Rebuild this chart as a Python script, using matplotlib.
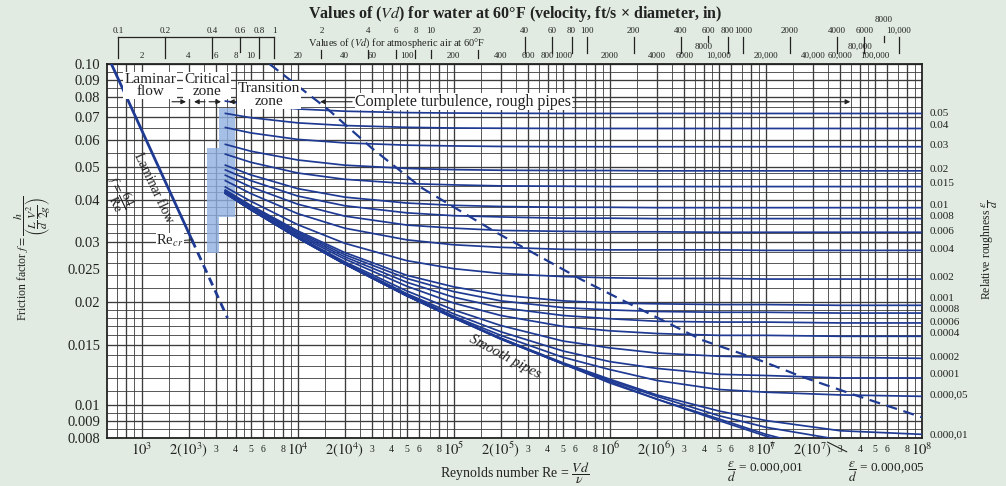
import matplotlib
matplotlib.use("Agg")
import numpy as np
import matplotlib.pyplot as plt
from matplotlib.transforms import blended_transform_factory
from matplotlib.ticker import NullLocator, NullFormatter

plt.rcParams['font.family'] = ['Liberation Serif', 'DejaVu Serif']
plt.rcParams['mathtext.fontset'] = 'stix'

# ---------------- data ----------------
re_grid = [3.4e3, 5e3, 1e4, 2e4, 5e4, 1e5, 2e5, 5e5, 1e6, 2e6, 5e6, 1e7, 3e7, 1e8]

rough_labels = ["0.05", "0.04", "0.03", "0.02", "0.015", "0.01", "0.008", "0.006",
                "0.004", "0.002", "0.001", "0.0008", "0.0006", "0.0004", "0.0002",
                "0.0001", "0.000,05", "0.000,01"]
# vertical position of each right-hand roughness label (friction-factor units)
rough_label_f = [0.0718, 0.0658, 0.0575, 0.0492, 0.0446, 0.0385, 0.0357, 0.0323,
                 0.0285, 0.0237, 0.0205, 0.0190, 0.0175, 0.0162, 0.0138, 0.0123,
                 0.0107, 0.0082]

f_0_05 = [0.0779, 0.0760, 0.0738, 0.0727, 0.0720, 0.0718, 0.0717, 0.0716, 0.0716, 0.0716, 0.0716, 0.0716, 0.0716, 0.0716]
f_0_04 = [0.0717, 0.0696, 0.0672, 0.0660, 0.0652, 0.0649, 0.0648, 0.0647, 0.0647, 0.0647, 0.0647, 0.0647, 0.0647, 0.0647]
f_0_03 = [0.0652, 0.0628, 0.0601, 0.0587, 0.0578, 0.0575, 0.0573, 0.0572, 0.0572, 0.0572, 0.0572, 0.0572, 0.0572, 0.0572]
f_0_02 = [0.0582, 0.0555, 0.0523, 0.0505, 0.0494, 0.0490, 0.0488, 0.0487, 0.0487, 0.0486, 0.0486, 0.0486, 0.0486, 0.0486]
f_0_015 = [0.0545, 0.0515, 0.0479, 0.0459, 0.0446, 0.0442, 0.0439, 0.0438, 0.0437, 0.0437, 0.0437, 0.0437, 0.0437, 0.0437]
f_0_01 = [0.0506, 0.0473, 0.0431, 0.0407, 0.0391, 0.0385, 0.0382, 0.0380, 0.0380, 0.0379, 0.0379, 0.0379, 0.0379, 0.0379]
f_0_008 = [0.0490, 0.0455, 0.0410, 0.0384, 0.0366, 0.0359, 0.0356, 0.0353, 0.0353, 0.0352, 0.0352, 0.0352, 0.0352, 0.0352]
f_0_006 = [0.0473, 0.0436, 0.0388, 0.0358, 0.0337, 0.0330, 0.0325, 0.0323, 0.0322, 0.0322, 0.0321, 0.0321, 0.0321, 0.0321]
f_0_004 = [0.0456, 0.0417, 0.0364, 0.0330, 0.0305, 0.0295, 0.0290, 0.0286, 0.0285, 0.0285, 0.0285, 0.0284, 0.0284, 0.0284]
f_0_002 = [0.0437, 0.0396, 0.0338, 0.0298, 0.0265, 0.0251, 0.0243, 0.0238, 0.0236, 0.0235, 0.0235, 0.0234, 0.0234, 0.0234]
f_0_001 = [0.0428, 0.0385, 0.0324, 0.0280, 0.0240, 0.0222, 0.0210, 0.0202, 0.0199, 0.0198, 0.0197, 0.0197, 0.0196, 0.0196]
f_0_0008 = [0.0427, 0.0383, 0.0321, 0.0276, 0.0235, 0.0215, 0.0202, 0.0193, 0.0190, 0.0188, 0.0187, 0.0187, 0.0186, 0.0186]
f_0_0006 = [0.0425, 0.0381, 0.0318, 0.0272, 0.0229, 0.0207, 0.0193, 0.0183, 0.0179, 0.0176, 0.0175, 0.0175, 0.0174, 0.0174]
f_0_0004 = [0.0423, 0.0378, 0.0315, 0.0268, 0.0223, 0.0199, 0.0183, 0.0170, 0.0165, 0.0162, 0.0160, 0.0160, 0.0159, 0.0159]
f_0_0002 = [0.0421, 0.0377, 0.0312, 0.0263, 0.0216, 0.0190, 0.0171, 0.0154, 0.0147, 0.0142, 0.0139, 0.0138, 0.0138, 0.0137]
f_0_0001 = [0.0420, 0.0375, 0.0311, 0.0261, 0.0212, 0.0185, 0.0164, 0.0144, 0.0134, 0.0128, 0.0123, 0.0122, 0.0120, 0.0120]
f_0_00005 = [0.0419, 0.0374, 0.0310, 0.0260, 0.0211, 0.0182, 0.0160, 0.0138, 0.0127, 0.0118, 0.0111, 0.0109, 0.0107, 0.0106]
f_0_00001 = [0.0419, 0.0374, 0.0309, 0.0259, 0.0209, 0.0181, 0.0157, 0.0133, 0.0119, 0.0107, 0.0096, 0.0090, 0.0084, 0.0082]
f_0_000005 = [0.0419, 0.0374, 0.0309, 0.0259, 0.0209, 0.0180, 0.0157, 0.0132, 0.0118, 0.0106, 0.0093, 0.0086, 0.0079, 0.0075]
f_0_000001 = [0.0419, 0.0374, 0.0309, 0.0259, 0.0209, 0.0180, 0.0156, 0.0132, 0.0117, 0.0104, 0.0091, 0.0082, 0.0072, 0.0064]
f_smooth = [0.0419, 0.0374, 0.0309, 0.0259, 0.0209, 0.0180, 0.0156, 0.0132, 0.0116, 0.0104, 0.0090, 0.0081, 0.0070, 0.0059]

rough_curves = [f_0_05, f_0_04, f_0_03, f_0_02, f_0_015, f_0_01, f_0_008, f_0_006,
                f_0_004, f_0_002, f_0_001, f_0_0008, f_0_0006, f_0_0004, f_0_0002,
                f_0_0001, f_0_00005, f_0_00001]
extra_curves = [f_0_000005, f_0_000001, f_smooth]

# laminar flow line f = 64/Re (solid) and its dashed continuation
lam_re = [640, 2100]
lam_f = [0.100, 0.0305]
lam_dash_re = [2100, 3550]
lam_dash_f = [0.0305, 0.0180]

# dashed boundary of complete turbulence
turb_re = [6600, 15800, 29800, 62400, 1.86e5, 6.6e5, 1.2e6, 3.9e6, 8.5e6, 1.7e7, 3.7e7, 1.0e8]
turb_f = [0.100, 0.0733, 0.0567, 0.0433, 0.0321, 0.0233, 0.0203, 0.0155, 0.0137, 0.0121, 0.0107, 0.0092]

# shaded critical zone (Re_min, Re_max, f_min, f_max)
crit_re_lo = [2610, 3120]
crit_re_hi = [3120, 3945]
crit_f_lo = [0.0279, 0.0356]
crit_f_hi = [0.0567, 0.0743]

# left axis ticks
y_ticks = [0.10, 0.09, 0.08, 0.07, 0.06, 0.05, 0.04, 0.03, 0.025, 0.02, 0.015, 0.01, 0.009, 0.008]
y_tick_labels = ["0.10", "0.09", "0.08", "0.07", "0.06", "0.05", "0.04", "0.03", "0.025",
                 "0.02", "0.015", "0.01", "0.009", "0.008"]

# bottom Reynolds ticks
x_tick_vals = []
x_tick_labels = []
for d in [3, 4, 5, 6, 7]:
    for m, lab in zip([1, 2, 3, 4, 5, 6, 8],
                      [r"$10^{%d}$" % d, r"$2(10^{%d})$" % d, "3", "4", "5", "6", "8"]):
        x_tick_vals.append(m * 10.0 ** d)
        x_tick_labels.append(lab)
x_tick_vals.append(1e8)
x_tick_labels.append(r"$10^{8}$")

# top scales
water_vd = [0.1, 0.2, 0.4, 0.6, 0.8, 1, 2, 4, 6, 8, 10, 20, 40, 60, 80, 100, 200, 400,
            600, 800, 1000, 2000, 4000, 6000, 8000, 10000]
water_labels = ["0.1", "0.2", "0.4", "0.6", "0.8", "1", "2", "4", "6", "8", "10", "20", "40",
                "60", "80", "100", "200", "400", "600", "800", "1000", "2000", "4000", "6000",
                "8000", "10,000"]
air_vd = [2, 4, 6, 8, 10, 20, 40, 60, 100, 200, 400, 600, 800, 1000, 2000, 4000, 6000, 8000,
          10000, 20000, 40000, 60000, 80000, 100000]
air_labels = ["2", "4", "6", "8", "10", "20", "40", "60", "100", "200", "400", "600", "800",
              "1000", "2000", "4000", "6000", "8000", "10,000", "20,000", "40,000", "60,000",
              "80,000", "100,000"]
water_factor = 7100.0   # Re per unit Vd (water)
air_factor = 500.0      # Re per unit Vd (air)

# ---------------- figure ----------------
BG = '#e1ebe1'
NAVY = '#1f3a93'
GRID = '#3c3c3c'
INK = '#222222'

fig = plt.figure(figsize=(10.06, 4.86), dpi=100, facecolor=BG)
ax = fig.add_axes([107 / 1006, 48 / 486, 815 / 1006, 374 / 486])
ax.set_facecolor('white')
ax.set_xscale('log')
ax.set_yscale('log')
ax.set_xlim(600, 1e8)
ax.set_ylim(0.008, 0.1)

# grid
vgrid = []
for d in range(2, 8):
    for m in [1, 1.5, 2, 2.5, 3, 3.5, 4, 4.5, 5, 6, 7, 8, 9]:
        v = m * 10.0 ** d
        if 600 < v < 1e8:
            vgrid.append((v, m in (1, 2, 3, 4, 5, 6, 8)))
for v, strong in vgrid:
    ax.axvline(v, color=GRID, lw=0.95 if strong else 0.6, zorder=1)

hgrid = list(np.round(np.arange(0.05, 0.1001, 0.005), 4)) + \
        list(np.round(np.arange(0.02, 0.0501, 0.002), 4)) + \
        list(np.round(np.arange(0.01, 0.0201, 0.001), 4)) + \
        list(np.round(np.arange(0.008, 0.0101, 0.0005), 5))
for h in sorted(set(hgrid)):
    strong = any(abs(h - t) < 1e-6 for t in y_ticks)
    ax.axhline(h, color=GRID, lw=0.95 if strong else 0.6, zorder=1)

# critical zone shading
for x0, x1, y0, y1 in zip(crit_re_lo, crit_re_hi, crit_f_lo, crit_f_hi):
    ax.fill([x0, x1, x1, x0], [y0, y0, y1, y1], color='#8fb0e0', alpha=0.8, lw=0, zorder=2)

# curves
for f in rough_curves + extra_curves:
    ax.plot(re_grid, f, color=NAVY, lw=1.25, zorder=4, solid_capstyle='butt')

ax.plot(lam_re, lam_f, color=NAVY, lw=2.0, zorder=4)
ax.plot(lam_dash_re, lam_dash_f, color=NAVY, lw=2.0, ls=(0, (3, 2)), zorder=4)
ax.plot(turb_re, turb_f, color=NAVY, lw=1.6, ls=(0, (5, 3)), zorder=4)

for s in ax.spines.values():
    s.set_linewidth(1.3)
    s.set_color(INK)

# axis ticks
ax.xaxis.set_major_locator(NullLocator())
ax.xaxis.set_minor_locator(NullLocator())
ax.yaxis.set_minor_locator(NullLocator())
ax.yaxis.set_minor_formatter(NullFormatter())
ax.set_yticks(y_ticks)
ax.set_yticklabels(y_tick_labels)
ax.tick_params(axis='y', which='both', length=0, pad=5, labelsize=10.5, labelcolor=INK)

xb = blended_transform_factory(ax.transData, ax.transAxes)
yb = blended_transform_factory(ax.transAxes, ax.transData)

for v, lab in zip(x_tick_vals, x_tick_labels):
    big = '10' in lab
    ax.text(v, -0.03, lab, transform=xb, ha='center', va='center',
            fontsize=10.5 if big else 7, color=INK)

# right roughness labels
for lab, f in zip(rough_labels, rough_label_f):
    ax.text(1.009, f, lab, transform=yb, ha='left', va='center', fontsize=8, color=INK)

# axis titles
fig.text(33 / 1006, 1 - 258 / 486,
         r"Friction factor $f = \dfrac{h}{\left(\dfrac{L}{d}\,\dfrac{V^2}{2g}\right)}$",
         rotation=90, ha='center', va='center', fontsize=8.5, color=INK)
fig.text(990 / 1006, 1 - 250 / 486, r"Relative roughness $\dfrac{\varepsilon}{d}$",
         rotation=90, ha='center', va='center', fontsize=8.5, color=INK)
ax.text(2.48e5, -0.095, r"Reynolds number Re = $\dfrac{Vd}{\nu}$", transform=xb,
        ha='center', va='center', fontsize=10, color=INK)

# top scales
ax.text(2.48e5, 1.134, r"Values of ($Vd$) for water at 60°F (velocity, ft/s × diameter, in)",
        transform=xb, ha='center', va='center', fontsize=11.5, weight='bold', color=INK)
for v, lab in zip(water_vd, water_labels):
    yy = 1.118 if lab == "8000" else 1.088
    ax.text(v * water_factor, yy, lab, transform=xb, ha='center', va='center',
            fontsize=6.5, color=INK)
    if v <= 1:
        y_hi, y_lo = 1.072, (1.032 if lab == "0.6" else 1.016)
    elif v <= 20:
        y_hi, y_lo = 1.038, 1.016
    elif lab in ("600", "8000"):
        y_hi, y_lo = 1.075, 1.058
    else:
        y_hi, y_lo = 1.072, 1.030
    ax.plot([v * water_factor] * 2, [y_hi, y_lo], transform=xb, color=INK,
            lw=0.9, clip_on=False)
ax.plot([0.1 * water_factor, 1 * water_factor], [1.072, 1.072], transform=xb,
        color=INK, lw=0.9, clip_on=False)
ax.text(42760, 1.056, r"Values of ($Vd$) for atmospheric air at 60°F", transform=xb,
        ha='center', va='center', fontsize=7.5, color=INK)
for v, lab in zip(air_vd, air_labels):
    yy = 1.045 if lab in ("8000", "80,000") else 1.021
    ax.text(v * air_factor, yy, lab, transform=xb, ha='center', va='center',
            fontsize=6.5, color=INK)

# zone annotations
tb = dict(facecolor='white', edgecolor='none', pad=0.5)
ax.text(1132, 0.0865, "Laminar\nflow", ha='center', va='center', fontsize=11,
        linespacing=0.95, color=INK, bbox=tb, zorder=5)
ax.text(2625, 0.0865, "Critical\nzone", ha='center', va='center', fontsize=11,
        linespacing=0.95, color=INK, bbox=tb, zorder=5)
ax.text(6556, 0.0811, "Transition\nzone", ha='center', va='center', fontsize=11,
        linespacing=1.0, color=INK, bbox=tb, zorder=5)
ax.text(1.15e5, 0.0775, "Complete turbulence, rough pipes", ha='center', va='center',
        fontsize=11.5, color=INK, bbox=tb, zorder=5)

row_f = 0.0775
arrows = [(1566, 1925), (2550, 2168), (2704, 3228), (10360, 3631), (22320, 13920), (5.83e5, 3.47e7)]
for tail, head in arrows:
    ax.annotate('', xy=(head, row_f), xytext=(tail, row_f),
                arrowprops=dict(arrowstyle='-|>', color=INK, lw=0.8,
                                mutation_scale=7, shrinkA=0, shrinkB=0), zorder=4.5)

ax.text(1183, 0.0433, "Laminar flow", rotation=-64.7, rotation_mode='anchor',
        ha='center', va='center', fontsize=10, color=INK, zorder=5)
ax.text(706, 0.0419, r"$f = \dfrac{64}{\mathrm{Re}}$", rotation=-64.7, rotation_mode='anchor',
        ha='center', va='center', fontsize=9.5, color=INK, zorder=5)
ax.annotate(r"Re$_{cr}$", xy=(2100, 0.0305), xytext=(1520, 0.0302),
            ha='center', va='center', fontsize=10.5, color=INK, zorder=5,
            bbox=tb, arrowprops=dict(arrowstyle='-', color=INK, lw=0.7,
                                     shrinkA=0, shrinkB=0))
ax.text(2.14e5, 0.01384, "Smooth pipes", rotation=-28, rotation_mode='anchor',
        ha='center', va='center', fontsize=10.5, style='italic', color=INK, zorder=5)

# bottom epsilon annotations
ax.annotate(r"$\dfrac{\varepsilon}{d}$ = 0.000,001", xy=(1.1e7, -0.011), xycoords=xb,
            xytext=(9.9e6, -0.09), textcoords=xb, ha='center', va='center', fontsize=9.5,
            color=INK, arrowprops=dict(arrowstyle='-', color=INK, lw=0.8,
                                       shrinkA=8, shrinkB=0))
ax.annotate(r"$\dfrac{\varepsilon}{d}$ = 0.000,005", xy=(2.48e7, -0.011), xycoords=xb,
            xytext=(5.9e7, -0.09), textcoords=xb, ha='center', va='center', fontsize=9.5,
            color=INK, arrowprops=dict(arrowstyle='-', color=INK, lw=0.8,
                                       shrinkA=8, shrinkB=0))

fig.savefig("out.png", dpi=100, facecolor=BG)
